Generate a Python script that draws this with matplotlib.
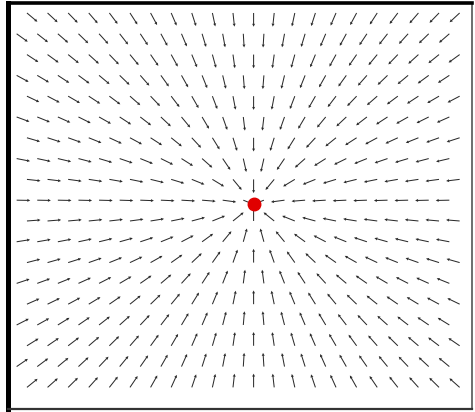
# Vector field of unit arrows converging on a single point (the sink),
# sampled on a staggered grid.
import numpy as np
import matplotlib
matplotlib.use("Agg")
from matplotlib import pyplot as plt

# grid layout: columns per row, number of rows, shift of every other row
n_cols = 22
n_rows = 19
odd_row_shift = -0.5

# location of the sink (grid units, rows counted from the top)
sink_x = 11.0
sink_y = 9.2

arrow_len = 0.66

# build the staggered sample points
xs, ys = [], []
for r in range(n_rows):
    shift = odd_row_shift if r % 2 else 0.0
    for c in range(n_cols):
        xs.append(c + shift)
        ys.append(r)
xs = np.array(xs, dtype=float)
ys = np.array(ys, dtype=float)

# unit vectors pointing at the sink
dx = sink_x - xs
dy = sink_y - ys
norm = np.hypot(dx, dy)
norm[norm == 0] = 1
u = dx / norm * arrow_len
v = dy / norm * arrow_len

fig = plt.figure(figsize=(4.75, 4.12), dpi=100)
ax = fig.add_axes([8 / 475, 3 / 412, 464 / 475, 406 / 412])

ax.quiver(xs, ys, u, v, angles="xy", scale_units="xy", scale=1,
          color="#2a2a2a", width=0.0022, headwidth=3.0, headlength=3.0,
          headaxislength=2.7, pivot="tail")
ax.plot(sink_x, sink_y, "o", color="#e00000", markersize=9, zorder=5)

ax.set_xlim(-0.92, 21.6)
ax.set_ylim(19.04, -0.48)
ax.set_xticks([])
ax.set_yticks([])

ax.spines["left"].set_linewidth(3.6)
ax.spines["top"].set_linewidth(2.6)
ax.spines["right"].set_linewidth(1.2)
ax.spines["right"].set_color("#555555")
ax.spines["bottom"].set_linewidth(1.6)
ax.spines["bottom"].set_color("#333333")

fig.savefig("out.png", dpi=100)
